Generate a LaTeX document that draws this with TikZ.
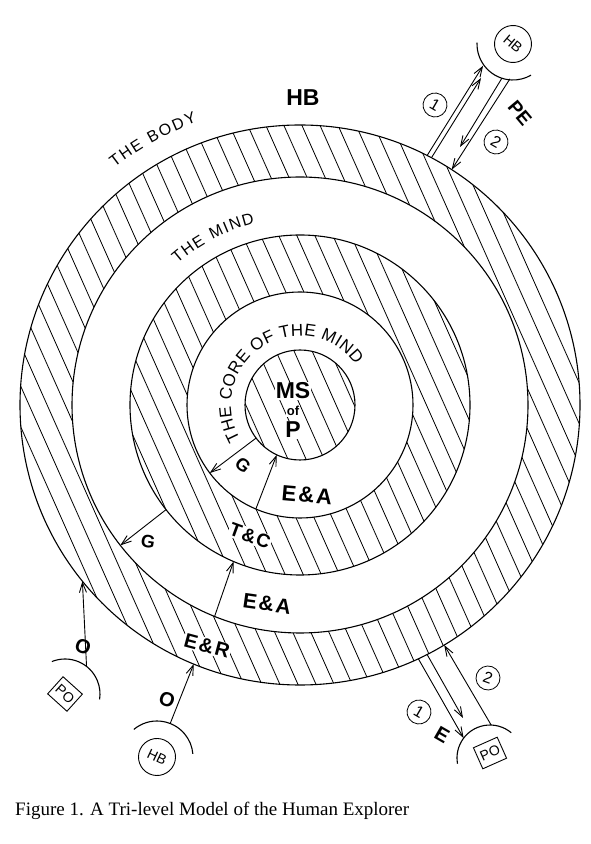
\documentclass[tikz,border=0pt]{standalone}
\usepackage{fontspec}
\setmainfont{Liberation Serif}
\setsansfont{Liberation Sans}
\usetikzlibrary{calc,arrows.meta,decorations.text}

\begin{document}
\begin{tikzpicture}[x=1pt,y=1pt,
    ring/.style={line width=1.1pt},
    hatch/.style={line width=0.8pt},
    arr/.style={line width=0.9pt,-{Straight Barb[length=10pt,width=7pt]}},
    lbl/.style={font=\sffamily\bfseries\fontsize{#1}{#1}\selectfont,inner sep=1pt},
    lblw/.style={lbl=#1,fill=white},
    num/.style={draw,circle,line width=0.8pt,minimum size=24pt,inner sep=0pt,font=\sffamily\fontsize{16}{16}\selectfont},
    hbc/.style={draw,circle,line width=0.9pt,minimum size=37pt,inner sep=0pt,font=\sffamily\fontsize{14}{14}\selectfont},
    pobox/.style={draw,line width=0.9pt,minimum width=26pt,minimum height=23pt,inner sep=0pt,font=\sffamily\fontsize{14}{14}\selectfont}]
    \useasboundingbox (0,0) rectangle (591,844);
    \coordinate (O) at (300,439);

    \begin{scope}[even odd rule]
        \clip (O) circle (280) (O) circle (228) (O) circle (170) (O) circle (113) (O) circle (55);
        \foreach \i in {-18,...,18} \draw[hatch] (O) ++(24:\i*16.5) ++(114:300) -- ++(-66:600);
    \end{scope}
    \foreach \r in {280,228,170,113,55} \draw[ring] (O) circle (\r);

    \path[decorate,decoration={text along path,text align={fit to path},text={|\sffamily\fontsize{16}{16}\selectfont|THE BODY}}] ($(O)+(128:301)$) arc[start angle=128,end angle=110,radius=301];
    \path[decorate,decoration={text along path,text align={fit to path},text={|\sffamily\fontsize{16}{16}\selectfont|THE MIND}}] ($(O)+(131:187)$) arc[start angle=131,end angle=104,radius=187];
    \path[decorate,decoration={text along path,text align={fit to path},text={|\sffamily\fontsize{17}{17}\selectfont|THE CORE OF THE MIND}}] ($(O)+(210:69)$) arc[start angle=210,end angle=36,radius=69];

    \node[lbl=23] (hb) at (303,746) {HB};
    \node[lblw=23] (ms) at (293,453) {MS}; \node[lblw=13] (of) at (293,433) {of}; \node[lblw=23] (p) at (293,414) {P};

    % arrows between the levels
    \coordinate (gi1) at ($(O)+(217:55)$); \coordinate (gi2) at ($(O)+(217:113)$);
    \coordinate (ei1) at ($(O)+(247:113)$); \coordinate (ei2) at ($(O)+(245:55)$);
    \coordinate (go1) at ($(O)+(218:170)$); \coordinate (go2) at ($(O)+(218:228)$);
    \coordinate (eo1) at ($(O)+(248:228)$); \coordinate (eo2) at ($(O)+(247:170)$);
    \draw[arr] (gi1) -- (gi2); \draw[arr] (ei1) -- (ei2);
    \draw[arr] (go1) -- (go2); \draw[arr] (eo1) -- (eo2);
    \node[lbl=18,rotate=-40] (gin) at (243,379) {G};
    \node[lbl=22,rotate=-5] (eain) at (307,349) {E\kern2pt\&\kern2pt A};
    \node[lblw=19,rotate=-20] (tc) at (250,308) {T\kern1.5pt\&\kern1.5pt C};
    \node[lbl=18,rotate=-10] (gout) at (148,302) {G};
    \node[lbl=21,rotate=-8] (eaout) at (267,240) {E\kern2pt\&\kern2pt A};
    \node[lblw=20,rotate=-15] (er) at (207,198) {E\kern2pt\&\kern2pt R};

    % objects outside the body
    \node[pobox,rotate=-42] (pol) at (65,150) {PO};
    \draw[ring] ($(pol)+(112:35)$) arc[start angle=112,end angle=-9,radius=35];
    \draw[arr] ($(pol)+(52:35)$) coordinate (ol1) -- ($(O)+(219:280)$) coordinate (ol2);
    \node[lbl=20,rotate=-20] (ol) at (83,197) {O};

    \node[hbc,rotate=-25] (hbb) at (157,87) {HB};
    \draw[ring] ($(hbb)+(130:36)$) arc[start angle=130,end angle=5,radius=36];
    \draw[arr] ($(hbb)+(68.5:36)$) coordinate (ob1) -- ($(O)+(247.7:280)$) coordinate (ob2);
    \node[lbl=20,rotate=-20] (ob) at (167,144) {O};

    \node[hbc,rotate=-40] (hbt) at (513,800) {HB};
    \draw[ring] ($(hbt)+(178:36)$) arc[start angle=178,end angle=300,radius=36];
    \coordinate (t1a) at ($(O)+(63:280)$); \coordinate (t1b) at ($(hbt)+(216:37)$);
    \coordinate (t1c) at ($(O)+(62:280)$); \coordinate (t1d) at (481,766);
    \coordinate (t2a) at ($(hbt)+(265:35)$); \coordinate (t2b) at ($(O)+(57.2:280)$);
    \coordinate (t2c) at ($(hbt)+(252:36)$); \coordinate (t2d) at (460,697);
    \draw[arr] (t1a) -- (t1b); \draw[arr] (t1c) -- (t1d);
    \draw[arr] (t2a) -- (t2b); \draw[arr] (t2c) -- (t2d);
    \node[num,rotate=-30] (n1t) at (435,739) {1}; \node[num,rotate=-30] (n2t) at (496,702) {2};
    \node[lbl=19,rotate=-50] (pe) at (520,731) {PE};

    \node[pobox,rotate=24] (por) at (490,91) {PO};
    \coordinate (porc) at (490,86);
    \draw[ring] ($(porc)+(190:33)$) arc[start angle=190,end angle=50,radius=33];
    \coordinate (b1a) at ($(O)+(295:280)$); \coordinate (b1b) at ($(porc)+(143:33)$);
    \coordinate (b1c) at ($(O)+(297:280)$); \coordinate (b1d) at (463,126);
    \coordinate (b2a) at ($(porc)+(88:33)$); \coordinate (b2b) at ($(O)+(301:280)$);
    \draw[arr] (b1a) -- (b1b); \draw[arr] (b1c) -- (b1d); \draw[arr] (b2a) -- (b2b);
    \node[num,rotate=-30] (n1b) at (419,132) {1}; \node[num,rotate=-20] (n2b) at (488,166) {2};
    \node[lbl=20,rotate=-30] (e) at (442,109) {E};

    \node[font=\fontsize{19}{19}\selectfont,anchor=base west,inner sep=0pt] (cap) at (15,28) {Figure 1. A Tri-level Model of the Human Explorer};
\end{tikzpicture}
\end{document}
